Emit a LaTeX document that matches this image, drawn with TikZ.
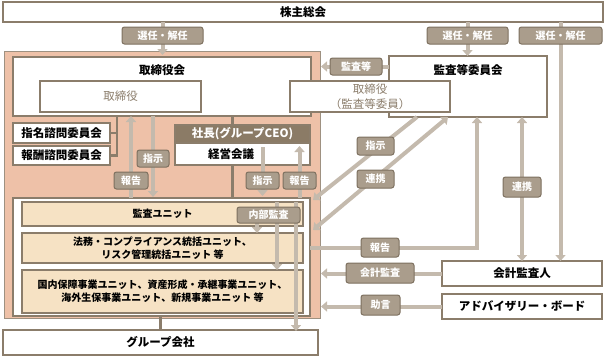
\documentclass[tikz,border=0pt]{standalone}
\usepackage{fontspec}
\setmainfont{Noto Sans CJK JP}
\usetikzlibrary{arrows.meta,calc}
\definecolor{frm}{HTML}{8B7D6B}
\definecolor{salm}{HTML}{EEC1A8}
\definecolor{salmb}{HTML}{9E9181}
\definecolor{crm}{HTML}{F6E2C4}
\definecolor{lng}{HTML}{C4BAAD}
\definecolor{pillf}{HTML}{AA9D8C}
\definecolor{pillb}{HTML}{7D705F}
\definecolor{ceof}{HTML}{8B7B66}
\newcommand\pbox[7]{\node[#1, minimum width={(#4-(#2))*1pt}, minimum height={(#5-(#3))*1pt}] (#6) at ({(#2+#4)/2},{(#3+#5)/2}) {#7};}
\tikzset{
  base/.style={inner sep=0pt, outer sep=0pt, align=center},
  wbox/.style={base, draw=frm, line width=1.3pt, fill=white, font=\fontsize{11.5}{13}\selectfont\bfseries},
  bigbox/.style={wbox, line width=1.8pt},
  ubox/.style={base, draw=frm, line width=1.3pt, fill=crm, font=\fontsize{10}{13}\selectfont\bfseries},
  gbox/.style={base, draw=frm, line width=1.3pt, fill=white, text=frm, font=\fontsize{11.5}{14}\selectfont},
  pill/.style={base, draw=pillb, line width=1pt, fill=pillf, rounded corners=2.5pt, text=white, font=\fontsize{10}{12}\selectfont\bfseries},
  conn/.style={draw=lng, line width=4pt},
  tip/.style={-{Triangle[width=10pt,length=6pt]}},
  tips/.style={{Triangle[width=10pt,length=6pt]}-{Triangle[width=10pt,length=6pt]}},
  stem/.style={draw=frm, line width=2.5pt},
  ttl/.style={base, font=\fontsize{11.5}{13}\selectfont\bfseries}
}
\begin{document}
\begin{tikzpicture}[x=1pt, y=-1pt]
\useasboundingbox (0,0) rectangle (605,359);
% main boxes
\pbox{wbox}{3}{2}{603}{22}{sh}{株主総会}
\pbox{base, draw=salmb, line width=0.8pt, fill=salm}{4}{51}{320}{318}{salm}{}
\pbox{bigbox}{13}{57}{311}{116}{tb}{}
\node[ttl] (tbt) at ([yshift=-13pt]tb.north) {取締役会};
\pbox{gbox}{40}{81}{201}{112}{tr}{取締役}
\pbox{wbox}{389}{56}{547}{117}{kt}{}
\node[ttl] (ktt) at ([yshift=-14pt]kt.north) {監査等委員会};
\pbox{gbox, font=\fontsize{11.5}{15}\selectfont}{290}{81}{450}{112}{tk}{取締役\\（監査等委員）}
\pbox{wbox}{13}{123}{110}{143}{c1}{指名諮問委員会}
\pbox{wbox}{13}{146}{110}{165}{c2}{報酬諮問委員会}
\pbox{wbox, fill=ceof, text=white}{175}{125}{310}{143}{ceo}{社長(グループCEO)}
\pbox{wbox}{175}{143}{310}{165}{kei}{}
\node[ttl] (keit) at ([xshift=-11.5pt]kei.center) {経営会議};
\pbox{bigbox}{13}{198}{310}{316}{panel}{}
\pbox{ubox}{22}{202}{303}{226}{kan}{監査ユニット}
\pbox{ubox}{22}{233}{303}{263}{hou}{法務・コンプライアンス統括ユニット、\\リスク管理統括ユニット 等}
\pbox{ubox}{22}{270}{303}{313}{kok}{国内保障事業ユニット、資産形成・承継事業ユニット、\\海外生保事業ユニット、新規事業ユニット 等}
\pbox{wbox}{3}{330}{318}{355}{grp}{グループ会社}
\pbox{wbox}{442}{261}{602}{286}{kk}{会計監査人}
\pbox{wbox}{442}{294}{602}{319}{ab}{アドバイザリー・ボード}
% dark stems
\draw[stem] ([xshift=-10pt]ceo.north) -- ([xshift=-10pt]ceo.north |- tb.south);
\draw[stem] ([xshift=-10pt]kei.south) -- ([xshift=-10pt]kei.south |- panel.north);
\draw[stem] ([xshift=7pt]c1.east |- tb.south) -- ([xshift=7pt]c2.east) -- (c2.east);
\draw[stem] ([xshift=7pt]c1.east) -- (c1.east);
\draw[stem] (panel.south -| grp.north) -- (grp.north);
% pill label positions
\path
  (162.5,35.5) coordinate (p1)
  (467.5,35.5) coordinate (p2)
  (560.5,35.5) coordinate (p3)
  (356,66.5) coordinate (p4)
  (153,158.5) coordinate (p5)
  (131,180.5) coordinate (p6)
  (262.5,180.5) coordinate (p7)
  (299.5,180.5) coordinate (p8)
  (522,187) coordinate (p11)
  (380,247.5) coordinate (p12);
% connectors
\draw[conn, tip] (sh.south -| p1) -- ([yshift=2pt]tb.north -| p1);
\draw[conn, tip] (sh.south -| p2) -- (kt.north -| p2);
\draw[conn, tip] (sh.south -| p3) -- (kk.north -| p3);
\draw[conn, tip] (kt.west |- p4) -- ([xshift=1pt]salm.east |- p4);
\draw[conn, tip] (tb.south -| p5) -- ([yshift=1pt]panel.north -| p5);
\draw[conn, tip] (panel.north -| p6) -- (tb.south -| p6);
\draw[conn, tip] ([yshift=-4pt]kei.north -| p7) -- ([yshift=2pt]panel.north -| p7);
\draw[conn, tip] (panel.north -| p8) -- ([yshift=-3pt]kei.north -| p8);
\draw[conn, tip] ([xshift=-51pt]kt.south) -- ([xshift=3pt,yshift=-2pt]panel.north east);
\draw[conn, tips] ([xshift=-20pt]kt.south) -- ([xshift=3pt,yshift=3pt]panel.east |- hou.north);
\draw[conn, tips] (kt.south -| p11) -- (kk.north -| p11);
\draw[conn, tip] (panel.east |- p12) -| ([xshift=9pt]kt.south);
\draw[conn, tip] (kk.west) -- ([xshift=1pt]salm.east |- kk.west);
\draw[conn, tip] (ab.west) -- ([xshift=1pt]salm.east |- ab.west);
% internal audit
\draw[conn, tip] ([xshift=-26pt]kan.north east) -- ([xshift=-26pt]kan.north east |- kok.north);
\draw[conn, tip] ([xshift=-7pt]kan.north east) -- ([xshift=-7pt,yshift=-1pt]kan.north east |- grp.north);
\draw[conn, tip] ([xshift=-46pt]kan.east) -- ([xshift=-46pt]kan.east |- hou.north);
\pbox{pill}{237}{207}{300}{223}{ia}{内部監査}
% pills
\pbox{pill}{122}{27}{203}{44}{l1}{選任・解任}
\pbox{pill}{427}{27}{508}{44}{l2}{選任・解任}
\pbox{pill}{519}{27}{602}{44}{l3}{選任・解任}
\pbox{pill}{330}{58}{382}{75}{l4}{監査等}
\pbox{pill}{137}{150}{169}{167}{l5}{指示}
\pbox{pill}{114}{172}{148}{189}{l6}{報告}
\pbox{pill}{246}{172}{279}{189}{l7}{指示}
\pbox{pill}{283}{172}{316}{189}{l8}{報告}
\pbox{pill}{357}{137}{394}{155}{l9}{指示}
\pbox{pill}{357}{170}{394}{188}{l10}{連携}
\pbox{pill}{503}{177}{541}{197}{l11}{連携}
\pbox{pill}{361}{238}{399}{257}{l12}{報告}
\pbox{pill}{346}{263}{414}{283}{l13}{会計監査}
\pbox{pill}{361}{295}{400}{315}{l14}{助言}
\end{tikzpicture}
\end{document}
